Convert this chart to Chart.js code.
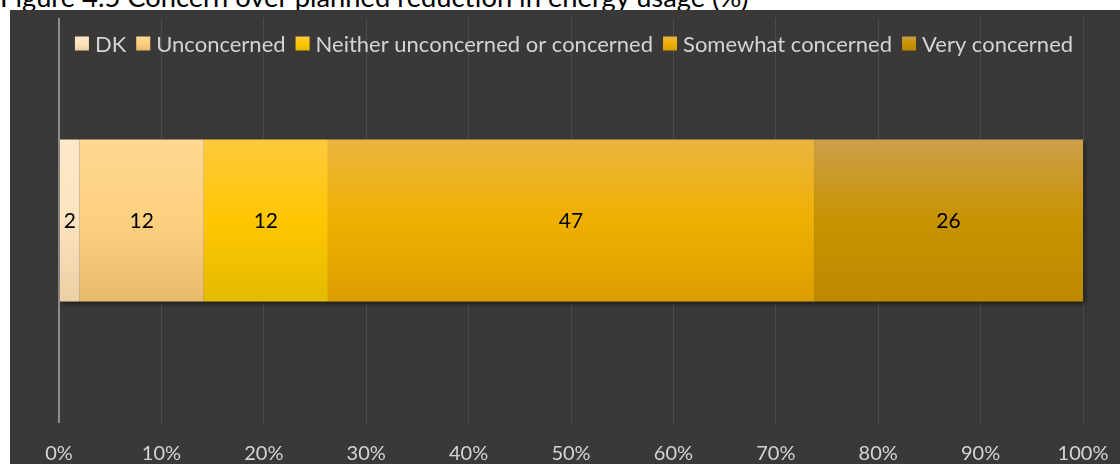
<!DOCTYPE html>
<html>
<head>
<meta charset="utf-8">
<title>Concern over planned reduction in energy usage</title>
<script src="https://cdn.jsdelivr.net/npm/chart.js@4.4.1/dist/chart.umd.min.js"></script>
<style>
  html, body { margin: 0; padding: 0; background: #fff; overflow: hidden; }
  body { width: 1120px; height: 464px; position: relative; }
  .fig-title {
    position: absolute; left: 0; top: -17px;
    font: 27.3px Lato, sans-serif; line-height: 27px; color: #000; white-space: nowrap;
  }
  .chart-box { position: absolute; left: 10px; top: 10px; width: 1123px; height: 490px; background: #3a3937; }
  canvas { display: block; }
</style>
</head>
<body>
<div class="fig-title">Figure 4.5 Concern over planned reduction in energy usage (%)</div>
<div class="chart-box"><canvas id="concernChart" width="1123" height="490"></canvas></div>
<script>
const categories = [""];
const seriesLabels = ["DK", "Unconcerned", "Neither unconcerned or concerned", "Somewhat concerned", "Very concerned"];
const seriesValues = [2, 12, 12, 47, 26];
const tickLabels = ["0%", "10%", "20%", "30%", "40%", "50%", "60%", "70%", "80%", "90%", "100%"];

// top / middle / bottom of each bar's vertical gradient
const seriesShades = [
  ["#fee8c9", "#fde3bf", "#ebcfa4"],
  ["#fed791", "#fdd07f", "#e7bb69"],
  ["#ffc93e", "#ffc600", "#e3bb00"],
  ["#ebb540", "#efb000", "#db9e00"],
  ["#cd9f4b", "#c89300", "#be8900"],
];

const FONT = "Lato, 'Open Sans', sans-serif";
const total = seriesValues.reduce((a, b) => a + b, 0);

const barFill = (shade) => (ctx) => {
  const area = ctx.chart.chartArea;
  if (!area) return shade[1];
  const mid = (area.top + area.bottom) / 2;
  const half = (area.bottom - area.top) * 0.2;
  const g = ctx.chart.ctx.createLinearGradient(0, mid - half, 0, mid + half);
  g.addColorStop(0, shade[0]);
  g.addColorStop(0.5, shade[1]);
  g.addColorStop(1, shade[2]);
  return g;
};

// one soft shadow behind the whole stacked bar, so segment joins stay clean
const barShadow = {
  id: "barShadow",
  beforeDatasetsDraw(chart) {
    const metas = chart.getSortedVisibleDatasetMetas();
    if (!metas.length) return;
    const first = metas[0].data[0].getProps(["base", "y", "height"], true);
    const last = metas[metas.length - 1].data[0].getProps(["x"], true);
    const c = chart.ctx;
    c.save();
    c.shadowColor = "rgba(0,0,0,0.5)";
    c.shadowBlur = 4;
    c.shadowOffsetX = 1.5;
    c.shadowOffsetY = 2;
    c.fillStyle = "#3a3937";
    c.fillRect(first.base, first.y - first.height / 2, last.x - first.base, first.height);
    c.restore();
  },
};

// raw value printed in the middle of each segment
const segmentLabels = {
  id: "segmentLabels",
  afterDatasetsDraw(chart) {
    const c = chart.ctx;
    c.save();
    c.font = `21px ${FONT}`;
    c.fillStyle = "#000";
    c.textAlign = "center";
    c.textBaseline = "middle";
    chart.data.datasets.forEach((ds, i) => {
      chart.getDatasetMeta(i).data.forEach((bar, j) => {
        const { x, y, base } = bar.getProps(["x", "y", "base"], true);
        c.fillText(String(ds.rawValues[j]), (x + base) / 2, y + 1);
      });
    });
    c.restore();
  },
};

// legend sits inside the plot area, over the grid lines
const areaLegend = {
  id: "areaLegend",
  afterDraw(chart) {
    const c = chart.ctx;
    const area = chart.chartArea;
    const box = 14, gap = 6, itemGap = 10;
    c.save();
    c.font = `22px ${FONT}`;
    c.textBaseline = "middle";
    const items = chart.data.datasets.map((ds, i) => ({
      text: ds.label,
      shade: seriesShades[i],
      w: c.measureText(ds.label).width,
    }));
    const full = items.reduce((s, it) => s + box + gap + it.w, 0) + itemGap * (items.length - 1);
    let x = (area.left + area.right) / 2 + 3 - full / 2;
    const y = area.top + 25.5;
    items.forEach((it) => {
      const g = c.createLinearGradient(0, y - box / 2, 0, y + box / 2);
      g.addColorStop(0, it.shade[0]);
      g.addColorStop(0.5, it.shade[1]);
      g.addColorStop(1, it.shade[2]);
      c.fillStyle = g;
      c.fillRect(x, y - box / 2, box, box);
      x += box + gap;
      c.fillStyle = "#d4d4d4";
      c.fillText(it.text, x, y + 1);
      x += it.w + itemGap;
    });
    c.restore();
  },
};

const datasets = seriesLabels.map((label, i) => ({
  label,
  rawValues: [seriesValues[i]],
  data: [(seriesValues[i] / total) * 100],
  backgroundColor: barFill(seriesShades[i]),
  borderWidth: 0,
  barPercentage: 0.4,
  categoryPercentage: 1,
}));

new Chart(document.getElementById("concernChart"), {
  type: "bar",
  data: { labels: categories, datasets },
  options: {
    indexAxis: "y",
    responsive: false,
    animation: false,
    layout: { padding: { left: 49, right: 50, top: 8, bottom: 15 } },
    plugins: { legend: { display: false }, tooltip: { enabled: false } },
    scales: {
      x: {
        stacked: true,
        min: 0,
        max: 100,
        border: { display: false },
        grid: {
          drawTicks: false,
          color: (ctx) => (ctx.index === 0 ? "#8e8d8b" : "#4d4c4a"),
          lineWidth: (ctx) => (ctx.index === 0 ? 2 : 1),
        },
        ticks: {
          stepSize: 10,
          padding: 19,
          color: "#d4d4d4",
          font: { family: FONT, size: 20, lineHeight: 1.2 },
          maxRotation: 0,
          callback: (v, i) => tickLabels[i],
        },
      },
      y: { stacked: true, display: false },
    },
  },
  plugins: [barShadow, segmentLabels, areaLegend],
});
</script>
</body>
</html>
